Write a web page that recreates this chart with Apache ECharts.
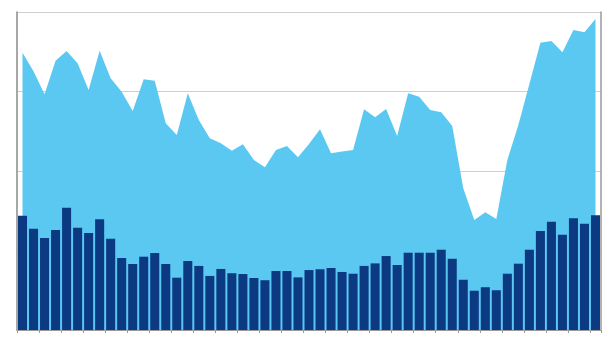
<!DOCTYPE html>
<html>
<head>
<meta charset="utf-8">
<script src="https://cdn.jsdelivr.net/npm/echarts@6/dist/echarts.min.js"></script>
<style>html,body{margin:0;padding:0;background:#fff}#c{width:610px;height:358px}</style>
</head>
<body>
<div id="c"></div>
<script>
var categories = [];
for (var i = 1; i <= 53; i++) categories.push(String(i));

var areaValues = [174.4,162.7,148.2,169.4,175.5,167.7,150.9,175.7,158.3,149.9,
  137.7,157.7,156.8,130.0,122.6,148.9,132.1,120.6,117.4,112.8,
  116.8,106.9,102.3,113.2,115.7,108.6,117.0,126.2,111.1,112.3,
  113.2,138.8,133.8,139.0,122.0,148.9,146.7,138.4,136.9,128.3,
  89.1,69.2,74.0,69.8,106.9,128.9,154.7,180.7,181.8,174.7,
  188.7,187.2,195.6];

var barValues = [71.9,63.7,57.9,62.9,76.9,64.3,61.0,69.6,57.4,45.3,
  41.5,46.1,48.4,41.5,32.9,43.4,40.3,34.0,38.4,35.7,
  35.2,32.7,31.3,37.1,37.1,33.1,37.7,38.2,39.0,36.5,
  35.4,40.3,41.9,46.5,40.9,48.6,48.6,48.6,50.5,44.8,
  31.6,24.7,26.9,25.0,35.4,41.7,50.5,62.3,68.1,59.9,
  70.3,66.9,72.1];

var chart = echarts.init(document.getElementById('c'));
chart.setOption({
  animation: false,
  grid: {left: 17, right: 9, top: 12, bottom: 28},
  xAxis: {
    type: 'category',
    data: categories,
    boundaryGap: true,
    axisLine: {show: true, lineStyle: {color: '#9a9a9a', width: 1}},
    axisTick: {show: true, length: 3, lineStyle: {color: '#9a9a9a'}},
    axisLabel: {show: false}
  },
  yAxis: [{
    type: 'value',
    min: 0, max: 200, interval: 50,
    axisLine: {show: true, lineStyle: {color: '#8a8a8a', width: 1.5}},
    axisTick: {show: false},
    axisLabel: {show: false},
    splitLine: {show: true, lineStyle: {color: '#cfcfcf', width: 1}}
  }, {
    type: 'value',
    position: 'right',
    min: 0, max: 200, interval: 50,
    axisLine: {show: true, lineStyle: {color: '#9a9a9a', width: 1.5}},
    axisTick: {show: false},
    axisLabel: {show: false},
    splitLine: {show: false}
  }],
  series: [{
    type: 'line',
    data: areaValues,
    showSymbol: false,
    lineStyle: {width: 0},
    areaStyle: {color: '#5BC8F2', opacity: 1},
    z: 1
  }, {
    type: 'bar',
    data: barValues,
    barCategoryGap: '18%',
    itemStyle: {color: '#0B3A82'},
    z: 2
  }]
});
</script>
</body>
</html>
